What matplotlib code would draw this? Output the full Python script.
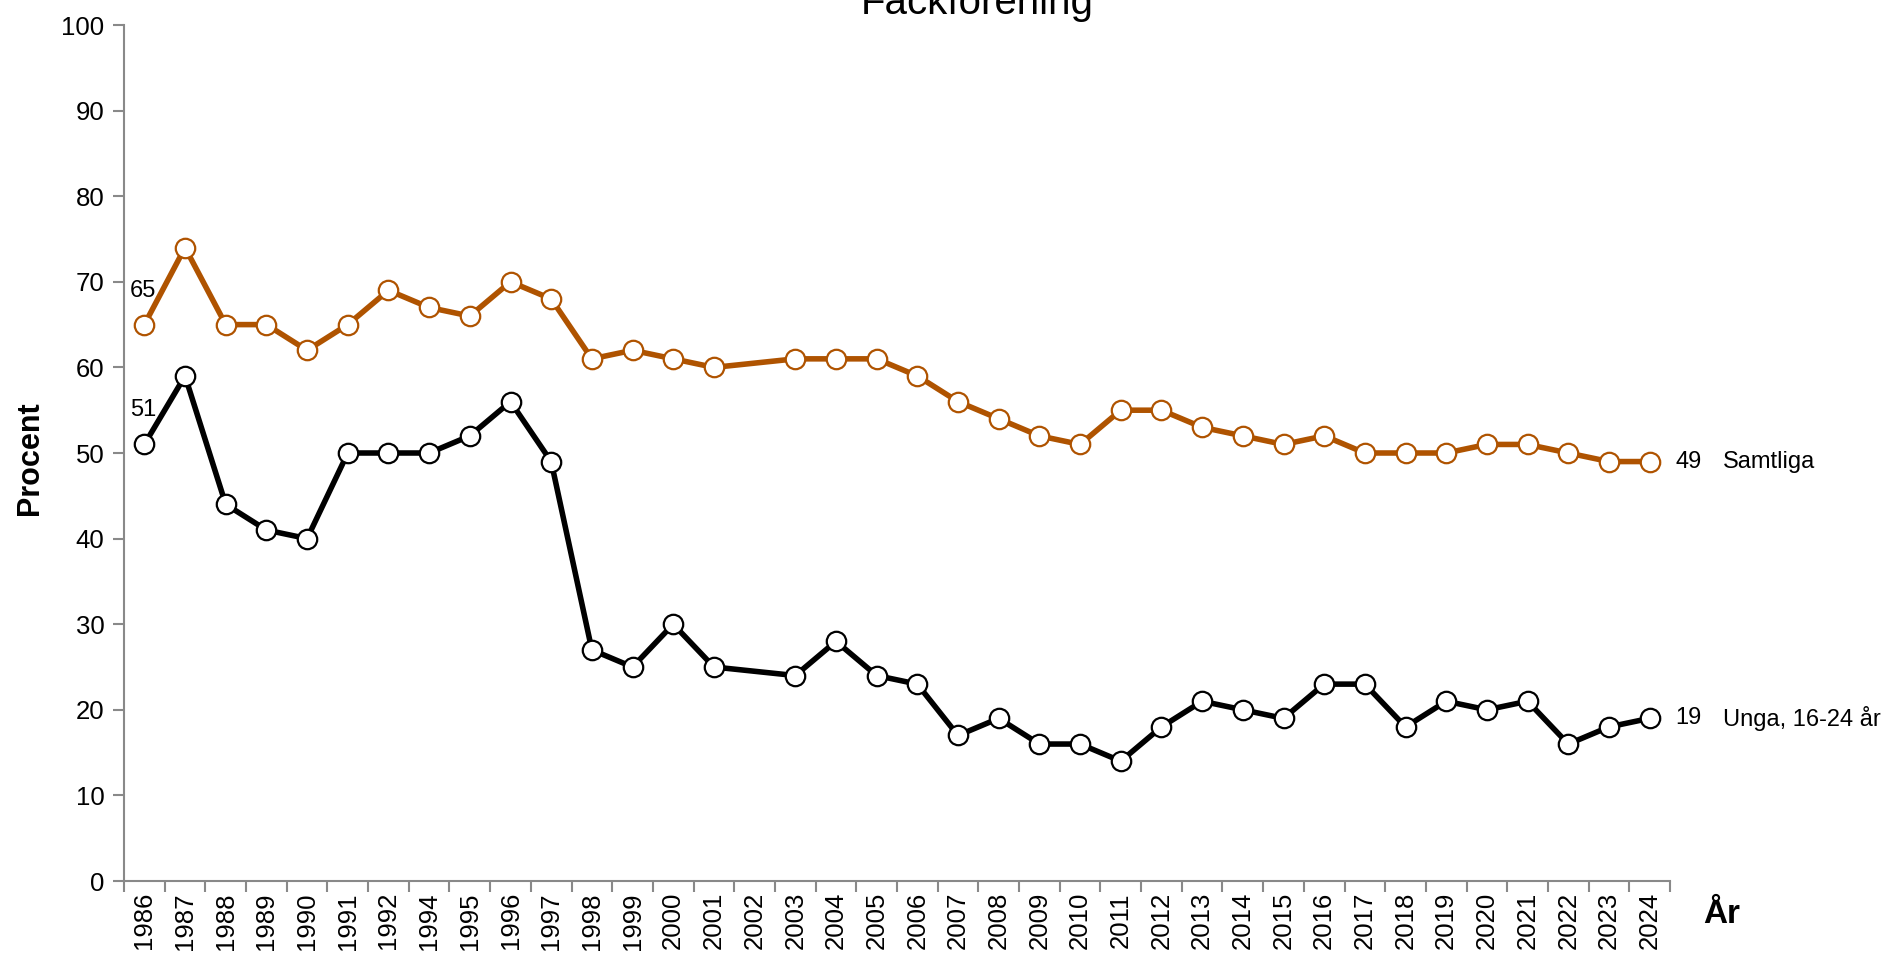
import matplotlib
matplotlib.use("Agg")
import matplotlib.pyplot as plt
import numpy as np

years = ["1986", "1987", "1988", "1989", "1990", "1991", "1992", "1994", "1995", "1996",
         "1997", "1998", "1999", "2000", "2001", "2002", "2003", "2004", "2005", "2006",
         "2007", "2008", "2009", "2010", "2011", "2012", "2013", "2014", "2015", "2016",
         "2017", "2018", "2019", "2020", "2021", "2022", "2023", "2024"]
samtliga = [65, 74, 65, 65, 62, 65, 69, 67, 66, 70, 68, 61, 62, 61, 60, None, 61, 61, 61, 59,
            56, 54, 52, 51, 55, 55, 53, 52, 51, 52, 50, 50, 50, 51, 51, 50, 49, 49]
unga = [51, 59, 44, 41, 40, 50, 50, 50, 52, 56, 49, 27, 25, 30, 25, None, 24, 28, 24, 23,
        17, 19, 16, 16, 14, 18, 21, 20, 19, 23, 23, 18, 21, 20, 21, 16, 18, 19]
series_names = ["Samtliga", "Unga, 16-24 år"]
title = "Fackförening"

plt.rcParams['font.family'] = ['Liberation Sans', 'DejaVu Sans']

fig = plt.figure(figsize=(18.86, 9.55), dpi=100)
ax = fig.add_axes([124/1886, 74/955, (1670-124)/1886, (881-25)/955])

orange = '#AF5300'
gray = '#898989'

def draw(vals, color, name):
    xs = [i for i, v in enumerate(vals) if v is not None]
    ys = [v for v in vals if v is not None]
    ax.plot(xs, ys, color=color, lw=4.0, marker='o', markersize=14,
            markerfacecolor='white', markeredgecolor=color, markeredgewidth=1.6,
            solid_joinstyle='round', zorder=3)
    ax.annotate(str(ys[0]), (xs[0], ys[0]), xytext=(-1, 34), textcoords='offset pixels',
                ha='center', va='center', fontsize=17)
    ax.annotate(f"{ys[-1]}", (xs[-1], ys[-1]), xytext=(26, 0), textcoords='offset pixels',
                ha='left', va='center', fontsize=17)
    ax.annotate(name, (xs[-1], ys[-1]), xytext=(73, 0), textcoords='offset pixels',
                ha='left', va='center', fontsize=17, annotation_clip=False)

draw(samtliga, orange, series_names[0])
draw(unga, 'black', series_names[1])

n = len(years)
ax.set_xlim(-0.5, n - 0.5)
ax.set_ylim(0, 100)
ax.set_yticks(np.arange(0, 101, 10))
ax.set_xticks(np.arange(n))
ax.set_xticklabels(years, rotation=90, fontsize=18.5)
ax.set_xticks(np.arange(n + 1) - 0.5, minor=True)
ax.tick_params(axis='x', which='major', length=0, pad=8)
ax.tick_params(axis='x', which='minor', length=8, color=gray, width=1.5, direction='out')
ax.tick_params(axis='y', length=8, color=gray, width=1.5, direction='out', labelsize=18.5, pad=6)
for s in ['top', 'right']:
    ax.spines[s].set_visible(False)
for s in ['left', 'bottom']:
    ax.spines[s].set_color(gray)
    ax.spines[s].set_linewidth(1.5)

fig.text(30/1886, 0.52, "Procent", rotation=90, fontsize=22, fontweight='bold',
         ha='center', va='center')
fig.text(1722/1886, (955-914)/955, "År", fontsize=24, fontweight='bold',
         ha='center', va='center')
fig.text(977/1886, 941/955, title, fontsize=29, ha='center', va='baseline')

fig.savefig("out.png", dpi=100)
